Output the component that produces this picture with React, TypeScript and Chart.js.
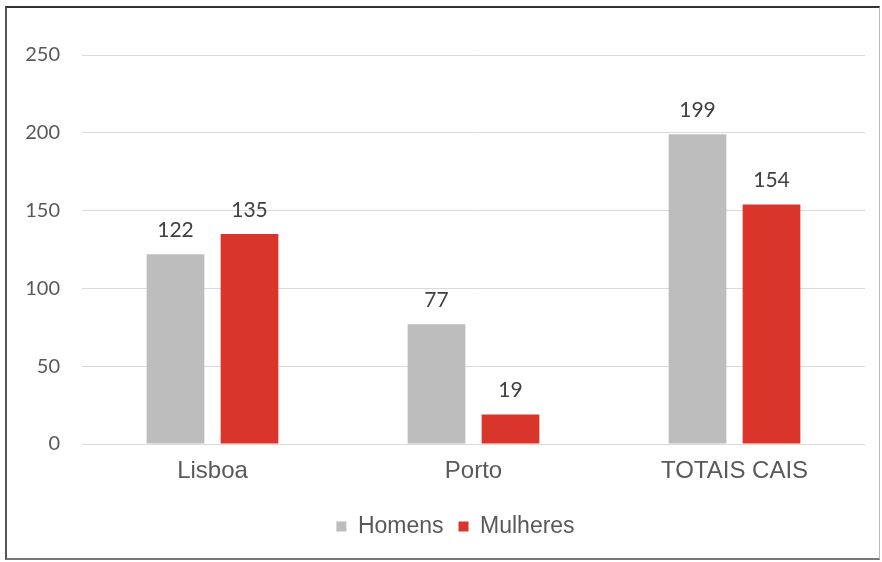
import React, { useEffect, useRef } from "react";
import { Chart, registerables } from "chart.js";

Chart.register(...registerables);

const categories = ["Lisboa", "Porto", "TOTAIS CAIS"];
const homens = [122, 77, 199];
const mulheres = [135, 19, 154];
const yTicks = [0, 50, 100, 150, 200, 250];

const dataLabelPlugin = {
  id: "dataLabels",
  afterLayout(chart: any) {
    if (chart.legend) {
      chart.legend.left = 46;
    }
  },
  afterDatasetsDraw(chart: any) {
    const ctx = chart.ctx;
    ctx.save();
    ctx.font = "21px Lato";
    ctx.fillStyle = "#404040";
    ctx.textAlign = "center";
    ctx.textBaseline = "alphabetic";
    chart.data.datasets.forEach((ds: any, di: number) => {
      const meta = chart.getDatasetMeta(di);
      meta.data.forEach((bar: any, i: number) => {
        ctx.fillText(String(ds.data[i]), bar.x, bar.y - 17);
      });
    });
    ctx.restore();
  },
};

export default function App() {
  const ref = useRef<HTMLCanvasElement>(null);
  useEffect(() => {
    document.body.style.margin = "0";
    const chart = new Chart(ref.current!, {
      type: "bar",
      data: {
        labels: categories,
        datasets: [
          { label: "Homens", data: homens, backgroundColor: "#BDBDBD" },
          { label: "Mulheres", data: mulheres, backgroundColor: "#D9352B" },
        ],
      },
      options: {
        animation: false,
        responsive: false,
        maintainAspectRatio: false,
        layout: { padding: { top: 55, right: 17, bottom: 14, left: 0 } },
        datasets: { bar: { categoryPercentage: 0.567, barPercentage: 0.78 } },
        plugins: {
          legend: {
            position: "bottom",
            labels: {
              boxWidth: 10,
              boxHeight: 10,
              padding: 15,
              color: "#595959",
              font: { family: "Liberation Sans", size: 23 },
            },
          },
          tooltip: { enabled: false },
        },
        scales: {
          x: {
            grid: { display: false, drawTicks: false },
            border: { display: false },
            ticks: { color: "#595959", padding: 13, font: { family: "Liberation Sans", size: 24 } },
            afterFit: (s: any) => { s.height = 56; },
          },
          y: {
            min: 0,
            max: 250,
            afterBuildTicks: (s: any) => { s.ticks = yTicks.map((v) => ({ value: v })); },
            grid: { color: "#dadada", lineWidth: 1, drawTicks: false },
            border: { display: false },
            ticks: { color: "#595959", padding: 22, font: { family: "Lato", size: 20 } },
            afterFit: (s: any) => { s.width = 82; },
          },
        },
      },
      plugins: [dataLabelPlugin],
    } as any);
    return () => chart.destroy();
  }, []);
  return (
    <div style={{ position: "relative", width: 882, height: 562, background: "#fff" }}>
      <canvas ref={ref} width={882} height={562} style={{ position: "absolute", left: 0, top: 0 }} />
      <div
        style={{
          position: "absolute",
          left: 5,
          top: 6,
          width: 872,
          height: 550,
          borderTop: "2px solid #333",
          borderLeft: "2px solid #555",
          borderRight: "1px solid #bbb",
          borderBottom: "2px solid #777",
          pointerEvents: "none",
        }}
      />
    </div>
  );
}
